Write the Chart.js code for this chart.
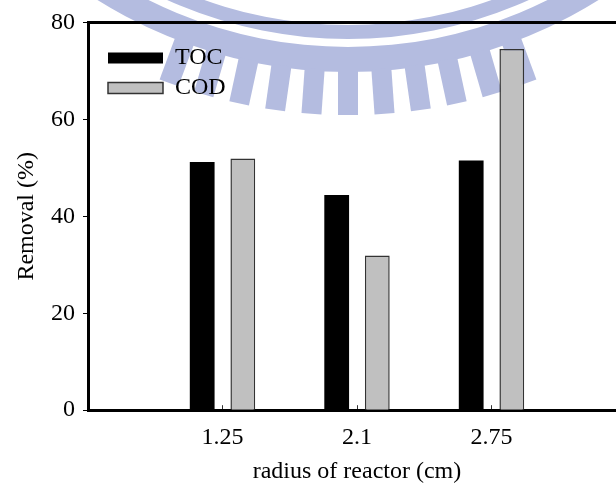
<!DOCTYPE html>
<html lang="en">
<head>
<meta charset="UTF-8">
<title>Removal vs radius of reactor</title>
<style>
    html, body { margin: 0; padding: 0; background: #fff; }
    /* the plot frame runs past the right edge in the original, so clip it */
    #wrap { width: 616px; height: 488px; overflow: hidden; position: relative; }
    #chart { display: block; width: 644px; height: 488px; }
</style>
<script src="https://cdn.jsdelivr.net/npm/chart.js"></script>
</head>
<body>
<div id="wrap"><canvas id="chart" width="644" height="488"></canvas></div>
<script>
    // values
    const categories = ['1.25', '2.1', '2.75'];
    const tocValues = [51.2, 44.4, 51.5];
    const codValues = [51.9, 31.9, 74.5];
    const yTicks = [0, 20, 40, 60, 80];

    // empty slots at both ends so the groups sit one step in from the axes
    const labels = ['', ...categories, ''];
    const pad = arr => [null, ...arr, null];

    Chart.defaults.font.family = "'Liberation Serif', 'Times New Roman', serif";
    Chart.defaults.font.size = 24;
    Chart.defaults.color = '#000';

    // pale logo watermark behind the plot
    const watermark = {
        id: 'watermark',
        beforeDraw(chart) {
            const ctx = chart.ctx;
            ctx.save();
            ctx.fillStyle = '#b4bce0';
            ctx.translate(348, -400);
            ctx.beginPath();
            ctx.arc(0, 0, 439, 0, Math.PI);
            ctx.arc(0, 0, 425, Math.PI, 0, true);
            ctx.fill();
            ctx.beginPath();
            ctx.arc(0, 0, 472, 0, Math.PI);
            ctx.arc(0, 0, 447, Math.PI, 0, true);
            ctx.fill();
            for (let k = -5; k <= 5; k++) {
                ctx.save();
                ctx.rotate(-k * 0.071);
                ctx.fillRect(-10, 470, 20, 45);
                ctx.restore();
            }
            ctx.restore();
        }
    };

    // move the legend into the upper left corner of the plot
    const legendSpot = {
        id: 'legendSpot',
        afterLayout(chart) {
            const lg = chart.legend;
            const area = chart.chartArea;
            lg.left = area.left + 14;
            lg.top = area.top + 17.5;
        }
    };

    new Chart(document.getElementById('chart'), {
        type: 'bar',
        data: {
            labels: labels,
            datasets: [{
                label: 'TOC',
                data: pad(tocValues),
                backgroundColor: '#000',
                borderColor: '#000',
                borderWidth: 0
            }, {
                label: 'COD',
                data: pad(codValues),
                backgroundColor: '#c0c0c0',
                borderColor: '#333',
                borderWidth: 1.5
            }]
        },
        options: {
            responsive: false,
            animation: false,
            categoryPercentage: 0.604,
            barPercentage: 0.61,
            layout: { padding: { top: 22, right: 6, bottom: 1.6, left: 8 } },
            plugins: {
                tooltip: { enabled: false },
                legend: {
                    position: 'chartArea',
                    align: 'start',
                    labels: {
                        boxWidth: 55,
                        boxHeight: 11,
                        padding: 6,
                        font: { size: 24 }
                    }
                }
            },
            scales: {
                x: {
                    offset: false,
                    grid: {
                        offset: false,
                        drawOnChartArea: false,
                        tickLength: -5,
                        color: '#333',
                        lineWidth: 1
                    },
                    border: { color: '#000', width: 3 },
                    ticks: { padding: 18, maxRotation: 0, autoSkip: false },
                    title: {
                        display: true,
                        text: 'radius of reactor (cm)',
                        padding: { top: -12.4, bottom: 0 }
                    }
                },
                xt: {
                    type: 'linear',
                    position: 'top',
                    ticks: { display: false },
                    grid: { drawOnChartArea: false, drawTicks: false },
                    border: { color: '#000', width: 3 }
                },
                y: {
                    min: yTicks[0],
                    max: yTicks[yTicks.length - 1],
                    ticks: { stepSize: yTicks[1] - yTicks[0], padding: 8 },
                    grid: {
                        drawOnChartArea: false,
                        tickLength: 5,
                        color: '#000',
                        lineWidth: 1
                    },
                    border: { color: '#000', width: 3 },
                    title: {
                        display: true,
                        text: 'Removal (%)',
                        padding: { top: 4.6, bottom: 1.6 }
                    }
                }
            }
        },
        plugins: [watermark, legendSpot]
    });
</script>
</body>
</html>
